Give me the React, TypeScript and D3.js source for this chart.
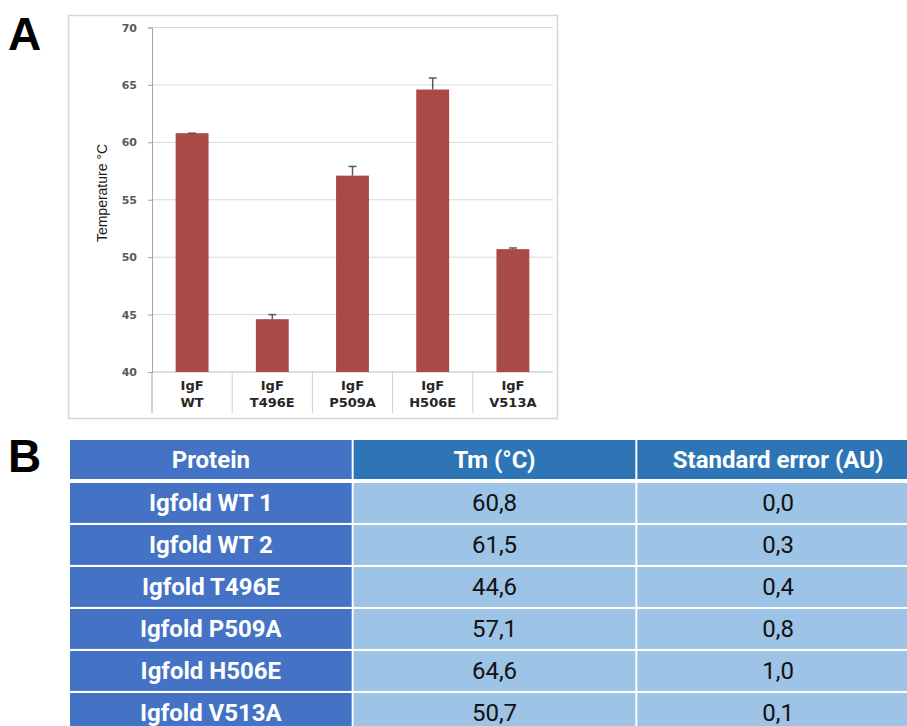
import { useRef, useEffect } from "react";
import * as d3 from "d3";

// Panel A: bar chart
const categories = ["IgF\nWT", "IgF\nT496E", "IgF\nP509A", "IgF\nH506E", "IgF\nV513A"];
const tmValues = [60.8, 44.6, 57.1, 64.6, 50.7];
const tmErrors = [0.0, 0.4, 0.8, 1.0, 0.1];
const yTicks = [40, 45, 50, 55, 60, 65, 70];

// Panel B: table
const tableHeaders = ["Protein", "Tm (°C)", "Standard error (AU)"];
const proteins = ["Igfold WT 1", "Igfold WT 2", "Igfold T496E", "Igfold P509A", "Igfold H506E", "Igfold V513A"];
const tableTm = [60.8, 61.5, 44.6, 57.1, 64.6, 50.7];
const tableSe = [0.0, 0.3, 0.4, 0.8, 1.0, 0.1];

const fmt = (v: number) => v.toFixed(1).replace(".", ",");

export default function App() {
  const svgRef = useRef<SVGSVGElement>(null);

  useEffect(() => {
    document.body.style.margin = "0";
    const svg = svgRef.current;
    if (!svg) return;

    const width = 907;
    const height = 726;
    const sel = d3.select(svg);
    sel.selectAll("*").remove();
    sel.attr("width", width).attr("height", height);

    // panel letters
    sel.append("text")
      .attr("x", 8).attr("y", 50)
      .attr("font-family", "Liberation Sans, Arial, sans-serif")
      .attr("font-weight", "bold").attr("font-size", 46)
      .text("A");
    sel.append("text")
      .attr("x", 8).attr("y", 472)
      .attr("font-family", "Liberation Sans, Arial, sans-serif")
      .attr("font-weight", "bold").attr("font-size", 46)
      .text("B");

    // ---------- chart ----------
    sel.append("rect")
      .attr("x", 68.5).attr("y", 15.5)
      .attr("width", 489).attr("height", 403)
      .attr("fill", "#fff")
      .attr("stroke", "#d6d6d6").attr("stroke-width", 1.5);

    const plot = { left: 152, right: 553, top: 27.5, bottom: 372 };

    const y = d3.scaleLinear().domain([40, 70]).range([plot.bottom, plot.top]);
    const x = d3.scaleBand<string>().domain(categories).range([plot.left, plot.right]);
    const barW = x.bandwidth() * 0.41;

    const g = sel.append("g");

    // gridlines
    g.selectAll("line.grid")
      .data(yTicks)
      .join("line")
      .attr("class", "grid")
      .attr("x1", plot.left).attr("x2", plot.right)
      .attr("y1", (d) => y(d)).attr("y2", (d) => y(d))
      .attr("stroke", (d) => (d === 40 ? "#bfbfbf" : "#d9d9d9"))
      .attr("stroke-width", 1);

    // y axis
    g.append("g")
      .attr("transform", `translate(${plot.left},0)`)
      .call(d3.axisLeft(y).tickValues(yTicks).tickSize(4).tickPadding(11))
      .call((a) => a.select(".domain").attr("stroke", "#a6a6a6"))
      .call((a) => a.selectAll("line").attr("stroke", "#a6a6a6"))
      .call((a) =>
        a.selectAll("text")
          .attr("fill", "#595959")
          .attr("font-family", "DejaVu Sans, sans-serif")
          .attr("font-weight", "bold")
          .attr("font-size", 11)
      );

    // category separators
    const bounds = [...categories.map((c) => x(c) as number), plot.right];
    g.selectAll("line.sep")
      .data(bounds.slice(0, -1))
      .join("line")
      .attr("class", "sep")
      .attr("x1", (d) => d).attr("x2", (d) => d)
      .attr("y1", plot.bottom).attr("y2", 413)
      .attr("stroke", (d, i) => (i === 0 ? "#a6a6a6" : "#d0d0d0"));

    // bars
    g.selectAll("rect.bar")
      .data(categories)
      .join("rect")
      .attr("class", "bar")
      .attr("x", (d) => (x(d) as number) + x.bandwidth() / 2 - barW / 2)
      .attr("width", barW)
      .attr("y", (d, i) => y(tmValues[i]))
      .attr("height", (d, i) => plot.bottom - y(tmValues[i]))
      .attr("fill", "#a84b47");

    // error bars (upper only)
    const eb = g.selectAll("g.err").data(categories).join("g").attr("class", "err");
    eb.append("line")
      .attr("x1", (d) => (x(d) as number) + x.bandwidth() / 2)
      .attr("x2", (d) => (x(d) as number) + x.bandwidth() / 2)
      .attr("y1", (d, i) => y(tmValues[i]))
      .attr("y2", (d, i) => y(tmValues[i] + tmErrors[i]))
      .attr("stroke", "#595959").attr("stroke-width", 1.5);
    eb.append("line")
      .attr("x1", (d) => (x(d) as number) + x.bandwidth() / 2 - 4)
      .attr("x2", (d) => (x(d) as number) + x.bandwidth() / 2 + 4)
      .attr("y1", (d, i) => y(tmValues[i] + tmErrors[i]))
      .attr("y2", (d, i) => y(tmValues[i] + tmErrors[i]))
      .attr("stroke", "#595959").attr("stroke-width", 1.5);

    // category labels
    const cl = g.selectAll("text.cat")
      .data(categories)
      .join("text")
      .attr("class", "cat")
      .attr("text-anchor", "middle")
      .attr("font-family", "DejaVu Sans, sans-serif")
      .attr("font-weight", "bold")
      .attr("font-size", 13)
      .attr("fill", "#262626");
    cl.selectAll("tspan")
      .data((d) => d.split("\n"))
      .join("tspan")
      .attr("x", function () {
        const c = (this as any).parentNode.__data__ as string;
        return (x(c) as number) + x.bandwidth() / 2;
      })
      .attr("y", (d, i) => 390 + i * 17)
      .text((d) => d);

    // y title
    g.append("text")
      .attr("transform", `translate(107,193) rotate(-90)`)
      .attr("text-anchor", "middle")
      .attr("font-family", "Liberation Sans, Arial, sans-serif")
      .attr("font-size", 14)
      .attr("fill", "#1a1a1a")
      .text("Temperature °C");

    // ---------- table ----------
    const colX = d3.scaleBand<number>().domain([0, 1, 2]).range([70, 919]).paddingInner(0.007);
    const rowY = d3.scaleBand<string>().domain(proteins).range([481, 481 + 42 * 5.95]).paddingInner(0.05);
    const t = sel.append("g");

    // header
    t.selectAll("rect.hdr")
      .data(tableHeaders)
      .join("rect")
      .attr("class", "hdr")
      .attr("x", (d, i) => colX(i) as number)
      .attr("y", 440)
      .attr("width", colX.bandwidth())
      .attr("height", 39)
      .attr("fill", (d, i) => (i === 0 ? "#4472c4" : "#2e75b6"));
    t.selectAll("text.hdr")
      .data(tableHeaders)
      .join("text")
      .attr("class", "hdr")
      .attr("x", (d, i) => (colX(i) as number) + colX.bandwidth() / 2)
      .attr("y", 468)
      .attr("text-anchor", "middle")
      .attr("font-family", "Roboto, sans-serif")
      .attr("font-weight", "bold")
      .attr("font-size", 24)
      .attr("fill", "#fff")
      .text((d) => d);

    const rows = t.selectAll("g.row")
      .data(proteins)
      .join("g")
      .attr("class", "row")
      .attr("transform", (d) => `translate(0,${(rowY(d) as number) + 2})`);
    const cells = (p: string, i: number) => [p, fmt(tableTm[i]), fmt(tableSe[i])];
    rows.each(function (p, i) {
      const r = d3.select(this);
      const vals = cells(p, i);
      r.selectAll("rect")
        .data(vals)
        .join("rect")
        .attr("x", (d, j) => colX(j) as number)
        .attr("y", 0)
        .attr("width", colX.bandwidth())
        .attr("height", rowY.bandwidth())
        .attr("fill", (d, j) => (j === 0 ? "#4472c4" : "#9dc3e6"));
      r.selectAll("text")
        .data(vals)
        .join("text")
        .attr("x", (d, j) => (colX(j) as number) + colX.bandwidth() / 2)
        .attr("y", rowY.bandwidth() / 2 + 8)
        .attr("text-anchor", "middle")
        .attr("font-family", "Roboto, sans-serif")
        .attr("font-weight", (d, j) => (j === 0 ? "bold" : "normal"))
        .attr("font-size", 24)
        .attr("fill", (d, j) => (j === 0 ? "#fff" : "#111"))
        .text((d) => d);
    });
  }, []);

  return <svg ref={svgRef} style={{ display: "block" }} />;
}
